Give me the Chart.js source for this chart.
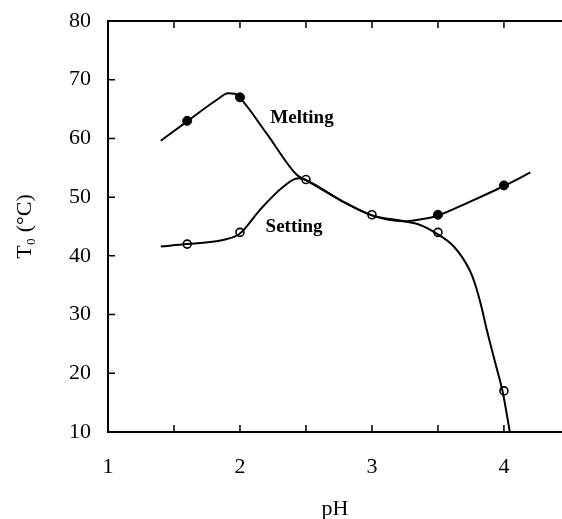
<!DOCTYPE html>
<html>
<head>
<meta charset="utf-8">
<script src="https://cdn.jsdelivr.net/npm/chart.js@4"></script>
<style>
  body { margin: 0; background: #fff; overflow: hidden; }
  #wrap { width: 562px; height: 519px; }
</style>
</head>
<body>
<div id="wrap"><canvas id="myChart"></canvas></div>
<script>
// measured points (pH, T0)
const meltPH = [1.6, 2.0, 3.5, 4.0];
const meltT = [63, 67, 47, 52];
const setPH = [1.6, 2.0, 2.5, 3.0, 3.5, 4.0];
const setT = [42, 44, 53, 47, 44, 17];

// hand drawn curves
const meltCurvePH = [1.40, 1.60, 1.82, 1.91, 1.96, 2.00, 2.20, 2.43, 2.50, 2.76, 3.00, 3.24, 3.36, 3.49, 3.74, 4.00, 4.20];
const meltCurveT = [59.6, 62.9, 66.5, 67.7, 67.6, 66.9, 60.9, 53.8, 52.9, 49.5, 46.9, 45.9, 46.2, 46.8, 49.2, 51.9, 54.2];
const setCurvePH = [1.40, 1.60, 1.87, 2.00, 2.15, 2.33, 2.44, 2.50, 2.76, 3.00, 3.24, 3.36, 3.49, 3.62, 3.74, 3.78, 3.83, 3.87, 3.94, 3.99, 4.045];
const setCurveT = [41.6, 42.0, 42.7, 43.8, 47.8, 51.8, 53.2, 52.9, 49.5, 46.9, 45.9, 45.3, 43.8, 41.6, 37.6, 35.3, 31.3, 27.4, 21.3, 16.9, 10.0];

const xTicks = [1, 1.5, 2, 2.5, 3, 3.5, 4];
const yTicks = [10, 20, 30, 40, 50, 60, 70, 80];

const curveLabels = ['Melting', 'Setting'];
const curveLabelPH = [2.47, 2.41];
const curveLabelT = [63.5, 44.9];

function pts(xs, ys) {
    let out = [];
    for (let i = 0; i < xs.length; i++) out.push({x: xs[i], y: ys[i]});
    return out;
}

const serif = 'Liberation Serif';

// top frame line, inward ticks and curve names
const framePlugin = {
    id: 'frame',
    afterDraw(chart) {
        const ctx = chart.ctx;
        const a = chart.chartArea;
        const xs = chart.scales.x;
        const ys = chart.scales.y;
        ctx.save();
        ctx.strokeStyle = '#000';
        ctx.lineWidth = 2;
        ctx.beginPath();
        ctx.moveTo(a.left - 1, a.top);
        ctx.lineTo(a.right, a.top);
        ctx.stroke();
        ctx.lineWidth = 1.5;
        ctx.beginPath();
        for (let v of xTicks) {
            let px = xs.getPixelForValue(v);
            ctx.moveTo(px, a.bottom);
            ctx.lineTo(px, a.bottom - 7);
            ctx.moveTo(px, a.top);
            ctx.lineTo(px, a.top + 7);
        }
        for (let v of yTicks) {
            let py = ys.getPixelForValue(v);
            ctx.moveTo(a.left, py);
            ctx.lineTo(a.left + 7, py);
        }
        ctx.stroke();
        ctx.fillStyle = '#000';
        ctx.font = 'bold 19px "' + serif + '"';
        ctx.textAlign = 'center';
        ctx.textBaseline = 'middle';
        for (let i = 0; i < curveLabels.length; i++) {
            ctx.fillText(curveLabels[i], xs.getPixelForValue(curveLabelPH[i]), ys.getPixelForValue(curveLabelT[i]));
        }
        ctx.restore();
    }
};

const data = {
    datasets: [{
        label: 'Melting curve',
        data: pts(meltCurvePH, meltCurveT),
        borderColor: '#000',
        borderWidth: 2,
        pointRadius: 0,
        cubicInterpolationMode: 'monotone',
        fill: false
    }, {
        label: 'Setting curve',
        data: pts(setCurvePH, setCurveT),
        borderColor: '#000',
        borderWidth: 2,
        pointRadius: 0,
        cubicInterpolationMode: 'monotone',
        fill: false
    }, {
        label: 'Melting',
        data: pts(meltPH, meltT),
        showLine: false,
        pointRadius: 4.5,
        pointBackgroundColor: '#000',
        pointBorderColor: '#000',
        pointBorderWidth: 1
    }, {
        label: 'Setting',
        data: pts(setPH, setT),
        showLine: false,
        pointRadius: 4,
        pointBackgroundColor: '#fff',
        pointBorderColor: '#000',
        pointBorderWidth: 1.6
    }]
};

const config = {
    type: 'line',
    data: data,
    options: {
        responsive: true,
        maintainAspectRatio: false,
        animation: false,
        layout: { autoPadding: false, padding: { top: 21, right: 0, left: 0, bottom: 0 } },
        plugins: {
            legend: { display: false },
            tooltip: { enabled: false }
        },
        scales: {
            x: {
                type: 'linear',
                min: 1,
                max: 4.44,
                afterFit: (s) => {
                    s.height = 87;
                    s.paddingLeft = 0;
                    s.paddingRight = 0;
                },
                border: { color: '#000', width: 2 },
                grid: { display: false, drawTicks: false },
                ticks: {
                    stepSize: 1,
                    includeBounds: false,
                    autoSkip: false,
                    maxRotation: 0,
                    padding: 22,
                    color: '#000',
                    font: { family: serif, size: 22 }
                },
                title: {
                    display: true,
                    text: 'pH',
                    color: '#000',
                    font: { family: serif, size: 22, lineHeight: 1 },
                    padding: { top: 0, bottom: -1 }
                }
            },
            y: {
                min: 10,
                max: 80,
                afterFit: (s) => {
                    s.width = 108;
                    s.paddingTop = 0;
                    s.paddingBottom = 0;
                },
                border: { color: '#000', width: 2 },
                grid: { display: false, drawTicks: false },
                ticks: {
                    stepSize: 10,
                    padding: 17,
                    color: '#000',
                    font: { family: serif, size: 22 }
                },
                title: {
                    display: true,
                    text: 'T\u2080 (\u00b0C)',
                    color: '#000',
                    font: { family: serif, size: 22, lineHeight: 1 },
                    padding: { top: 14, bottom: 0 }
                }
            }
        }
    },
    plugins: [framePlugin]
};

var myChart = new Chart(document.getElementById('myChart'), config);
</script>
</body>
</html>
